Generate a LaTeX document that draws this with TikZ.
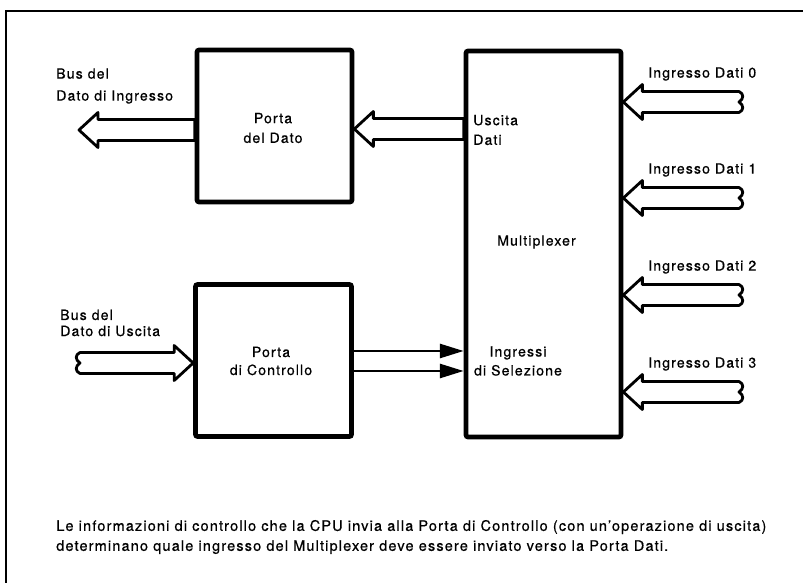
\documentclass[tikz,border=0pt]{standalone}
\usepackage{fontspec}
\setmainfont{TeX Gyre Heros}[LetterSpace=8, FakeBold=0.6]
\usepackage{tikz}
\usetikzlibrary{arrows.meta,calc}
\tikzset{
  blk/.style={draw, line width=3.3pt, rounded corners=1.5pt, inner sep=0pt},
  bus/.style={line width=2pt, line join=round},
  sel/.style={-{Triangle[length=17pt,width=10pt]}, line width=1.9pt},
  frame/.style={line width=1.8pt},
  lbl/.style={inner sep=0pt, font=\fontsize{10}{14}\selectfont},
}
% hollow bus arrow: direction (1 = points left, -1 = points right), tip, tail
\newcommand{\busarrow}[3]{%
  \draw[bus] (#2) -- ++({19*#1},-17.5) -- ++(0,7) -- ($(#2 -| #3)+(0,-10.5)$)
    -- ++(0,21) -- ($(#2)+({19*#1},10.5)$) -- ++(0,7) -- cycle;}
% same, with a broken (wavy) tail
\newcommand{\wavyarrow}[3]{%
  \draw[bus] (#2) -- ++({19*#1},-17.5) -- ++(0,7) -- ($(#2 -| #3)+(0,-10.5)$)
    .. controls +({5*#1},2) and +({5*#1},-3) .. ++(0,10.5)
    .. controls +({5*#1},3) and +({5*#1},-2) .. ++(0,10.5)
    -- ($(#2)+({19*#1},10.5)$) -- ++(0,7) -- cycle;}

\begin{document}
\begin{tikzpicture}[x=0.025cm, y=-0.025cm]
\useasboundingbox (0,0) rectangle (803,583);
\draw[frame] (6,583) -- (6,11) -- (803,11);

% blocks
\node[blk, minimum width=3.875cm, minimum height=3.8cm] (pd) at (274.5,126) {};
\node[blk, minimum width=3.9cm, minimum height=3.8cm] (pc) at (273.5,360.5) {};
\node[blk, minimum width=3.875cm, minimum height=9.65cm] (mux) at (543.5,244) {};

\node[lbl, align=center] (pdl) at (273,128) {Porta\\del Dato};
\node[lbl, align=center, font=\fontsize{10}{12.8}\selectfont] (pcl) at (271,361) {Porta\\di Controllo};
\node[lbl, align=left, anchor=west] (usc) at (473,130) {Uscita\\Dati};
\node[lbl, anchor=west] (muxl) at (497,242) {Multiplexer};
\node[lbl, align=center, font=\fontsize{10}{13.5}\selectfont] (insel) at (518,361) {Ingressi\\di Selezione};

% data bus out of the data port
\coordinate (busin) at (79,130);
\node[lbl, align=left, anchor=west, font=\fontsize{10}{15.6}\selectfont] (businl) at (56,86) {Bus del\\Dato di Ingresso};
\busarrow{1}{busin}{pd.west}
\coordinate (usctip) at (pd.east |- 0,129);
\busarrow{1}{usctip}{mux.west}

% data bus into the control port
\coordinate (busout) at (80,363);
\coordinate (pctip) at (pc.west |- busout);
\node[lbl, align=left, anchor=west, font=\fontsize{10}{11.4}\selectfont] (busoutl) at (60,323) {Bus del\\Dato di Uscita};
\wavyarrow{-1}{pctip}{busout}

% selection lines
\coordinate (s0) at (0,351);
\coordinate (s1) at (0,371);
\draw[sel] (pc.east |- s0) -- (mux.west |- s0);
\draw[sel] (pc.east |- s1) -- (mux.west |- s1);

% data inputs
\foreach \k/\yy in {0/102,1/198,2/295,3/392} {
  \coordinate (in\k) at (739,\yy);
  \coordinate (tip\k) at (mux.east |- in\k);
  \node[lbl, anchor=west] (inl\k) at (648,\yy-28) {Ingresso Dati \k};
  \wavyarrow{1}{tip\k}{in\k}
}

\node[lbl, align=left, anchor=west, font=\fontsize{10.3}{14.2}\selectfont] (note) at (56,537)
  {Le informazioni di controllo che la CPU invia alla Porta di Controllo (con un'operazione di uscita)\\
   determinano quale ingresso del Multiplexer deve essere inviato verso la Porta Dati.};
\end{tikzpicture}
\end{document}
